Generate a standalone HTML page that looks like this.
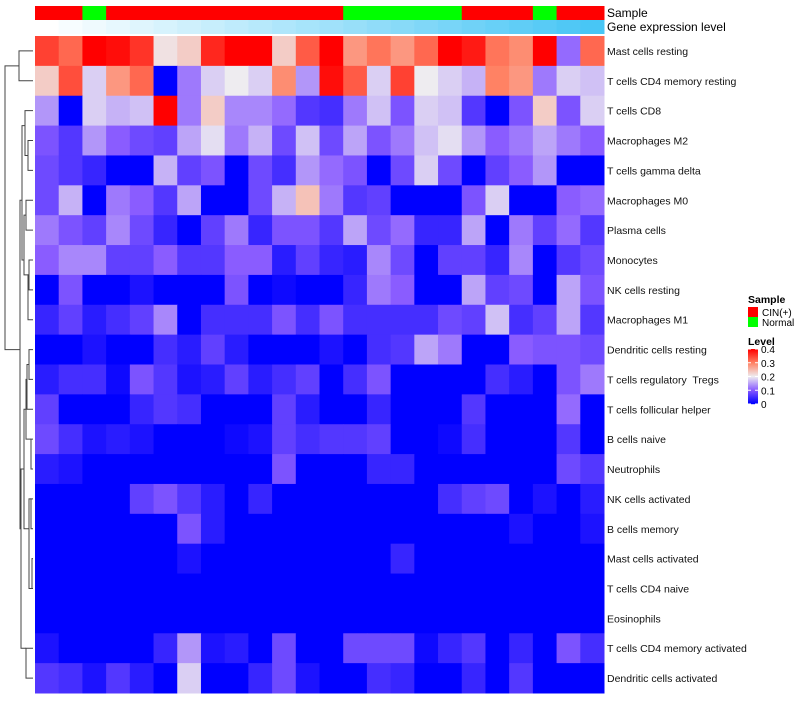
<!DOCTYPE html>
<html><head><meta charset="utf-8"><style>
body{margin:0;background:#fff;font-family:"Liberation Sans",sans-serif;}
svg text{font-family:"Liberation Sans",sans-serif;white-space:pre;}
</style></head><body>
<svg id="c" width="800" height="700"></svg>
<script>
const rowNames=["Mast cells resting","T cells CD4 memory resting","T cells CD8","Macrophages M2","T cells gamma delta","Macrophages M0","Plasma cells","Monocytes","NK cells resting","Macrophages M1","Dendritic cells resting","T cells regulatory  Tregs","T cells follicular helper","B cells naive","Neutrophils","NK cells activated","B cells memory","Mast cells activated","T cells CD4 naive","Eosinophils","T cells CD4 memory activated","Dendritic cells activated"];
const sampleGroups=["CIN","CIN","Normal","CIN","CIN","CIN","CIN","CIN","CIN","CIN","CIN","CIN","CIN","Normal","Normal","Normal","Normal","Normal","CIN","CIN","CIN","Normal","CIN","CIN"];
const legendTicks=[0,0.1,0.2,0.3,0.4];
const r0=[0.35,0.32,0.4,0.39,0.36,0.21,0.23,0.37,0.4,0.4,0.23,0.33,0.4,0.28,0.31,0.28,0.32,0.4,0.38,0.31,0.29,0.4,0.11,0.32];
const r1=[0.23,0.34,0.18,0.28,0.32,0,0.12,0.18,0.2,0.18,0.29,0.14,0.39,0.33,0.18,0.35,0.2,0.18,0.16,0.3,0.28,0.12,0.18,0.17];
const r2=[0.14,0,0.18,0.16,0.17,0.4,0.12,0.23,0.13,0.13,0.11,0.06,0.05,0.12,0.17,0.09,0.18,0.17,0.06,0,0.09,0.23,0.09,0.18];
const r3=[0.09,0.06,0.14,0.1,0.08,0.07,0.15,0.19,0.12,0.16,0.08,0.17,0.08,0.15,0.09,0.12,0.17,0.19,0.14,0.1,0.12,0.15,0.12,0.1];
const r4=[0.08,0.06,0.04,0,0,0.16,0.07,0.09,0,0.08,0.05,0.14,0.11,0.09,0,0.08,0.18,0.08,0,0.07,0.1,0.14,0,0];
const r5=[0.08,0.16,0,0.12,0.1,0.06,0.15,0,0,0.08,0.16,0.24,0.12,0.06,0.07,0,0,0,0.09,0.18,0,0,0.1,0.11];
const r6=[0.12,0.09,0.07,0.13,0.08,0.04,0,0.07,0.12,0.04,0.09,0.09,0.06,0.15,0.08,0.11,0.04,0.04,0.15,0,0.12,0.07,0.11,0.06];
const r7=[0.1,0.13,0.13,0.07,0.07,0.1,0.06,0.06,0.1,0.1,0.03,0.07,0.04,0.03,0.13,0.08,0,0.07,0.07,0.04,0.13,0,0.06,0.08];
const r8=[0,0.09,0,0,0.02,0,0,0,0.09,0,0.01,0,0,0.04,0.12,0.1,0,0,0.15,0.07,0.08,0,0.15,0.09];
const r9=[0.04,0.07,0.03,0.05,0.07,0.13,0,0.05,0.05,0.05,0.09,0.05,0.09,0.05,0.05,0.05,0.05,0.08,0.07,0.17,0.05,0.07,0.15,0.06];
const r10=[0,0,0.02,0,0,0.05,0.03,0.07,0.03,0,0,0,0.02,0,0.05,0.06,0.15,0.12,0,0,0.1,0.09,0.09,0.08];
const r11=[0.03,0.05,0.05,0.01,0.09,0.06,0.02,0.03,0.07,0.03,0.05,0.07,0,0.05,0.09,0,0,0,0,0.05,0.03,0,0.09,0.12];
const r12=[0.07,0,0,0,0.04,0.06,0.05,0,0,0,0.07,0.03,0,0,0.04,0,0,0,0.06,0,0,0,0.11,0];
const r13=[0.08,0.05,0.02,0.03,0.02,0,0,0,0.01,0.02,0.07,0.05,0.06,0.06,0.07,0,0,0.01,0.05,0,0,0,0.06,0];
const r14=[0.03,0.02,0,0,0,0,0,0,0,0,0.09,0,0,0,0.04,0.04,0,0,0,0,0,0,0.08,0.06];
const r15=[0,0,0,0,0.07,0.09,0.06,0.03,0,0.04,0,0,0,0,0,0,0,0.05,0.07,0.08,0,0.02,0,0.03];
const r16=[0,0,0,0,0,0,0.09,0.03,0,0,0,0,0,0,0,0,0,0,0,0,0.02,0,0,0.02];
const r17=[0,0,0,0,0,0,0.02,0,0,0,0,0,0,0,0,0.04,0,0,0,0,0,0,0,0];
const r18=[0,0,0,0,0,0,0,0,0,0,0,0,0,0,0,0,0,0,0,0,0,0,0,0];
const r19=[0,0,0,0,0,0,0,0,0,0,0,0,0,0,0,0,0,0,0,0,0,0,0,0];
const r20=[0.02,0,0,0,0,0.04,0.14,0.02,0.03,0,0.08,0,0,0.08,0.08,0.08,0.01,0.04,0.06,0,0.04,0,0.09,0.05];
const r21=[0.06,0.05,0.02,0.06,0.03,0,0.18,0,0,0.04,0.08,0.02,0,0,0.05,0.04,0,0,0.04,0,0.06,0,0,0];
const values=[r0,r1,r2,r3,r4,r5,r6,r7,r8,r9,r10,r11,r12,r13,r14,r15,r16,r17,r18,r19,r20,r21];

const NS="http://www.w3.org/2000/svg";
const svg=document.getElementById('c');
const X0=35,X1=604,Y0=36,Y1=693,VMAX=0.4;
const nC=sampleGroups.length,nR=rowNames.length;
const cw=(X1-X0)/nC,rh=(Y1-Y0)/nR;
const xS=i=>X0+i*cw, yS=j=>Y0+j*rh;
function mk(t,a,p){const e=document.createElementNS(NS,t);for(const k in a)e.setAttribute(k,a[k]);(p||svg).appendChild(e);return e;}
function lerp(a,b,t){return a.map((v,i)=>Math.round(v+(b[i]-v)*t));}
function col(v){let t=Math.max(0,Math.min(1,v/VMAX));
 const st=[[0,[0,0,255]],[0.25,[138,92,255]],[0.5,[238,236,240]],[0.75,[255,130,100]],[1,[255,0,0]]];
 for(let i=0;i<st.length-1;i++){if(t<=st[i+1][0]){const f=(t-st[i][0])/(st[i+1][0]-st[i][0]);const c=lerp(st[i][1],st[i+1][1],f);return `rgb(${c})`;}}
 return 'rgb(255,0,0)';}
for(let i=0;i<nC;i++){
 const r=mk('rect',{x:xS(i),y:6,width:cw+0.5,height:14,fill:sampleGroups[i]==="CIN"?"#ff0000":"#00ff00"});
 
 
 const f=i/(nC-1);const c=lerp([255,255,255],[72,198,245],f);
 const g=mk('rect',{x:xS(i),y:20,width:cw+0.5,height:14,fill:`rgb(${c})`});
 
 
}
let t=mk('text',{x:607,y:17,'font-size':12});t.textContent="Sample";

t=mk('text',{x:607,y:31,'font-size':12});t.textContent="Gene expression level";

values.forEach((row,j)=>{row.forEach((v,i)=>{
 const r=mk('rect',{x:xS(i),y:yS(j),width:cw+0.5,height:rh+0.5,fill:col(v)});
 
 
});
 const l=mk('text',{x:607,y:yS(j)+rh/2+4,'font-size':10.5,fill:'#111'});l.textContent=rowNames[j];
 
 
});
const yc=j=>yS(j)+rh/2;
const dg=mk('g',{stroke:'#444','stroke-width':1,fill:'none'});

function br(xa,ya,xb,yb,xm){mk('path',{d:`M${xa},${ya}H${xm}V${yb}H${xb}`},dg);}
br(33,yc(0),33,yc(1),19);
br(33,yc(3),33,yc(4),28);
br(33,yc(2),28,(yc(3)+yc(4))/2,25);
br(33,yc(5),33,yc(6),26);
br(33,yc(7),33,yc(8),29);
br(26,(yc(5)+yc(6))/2,29,(yc(7)+yc(8))/2,24);
br(33,yc(9),29,(yc(7)+yc(8))/2,28);
br(25,(yc(2)+yc(3))/2,24,yc(7),22);
br(33,yc(10),33,yc(11),29);
br(29,(yc(10)+yc(11))/2,33,yc(12),27);
br(33,yc(13),33,yc(14),31);
br(27,yc(11),31,yc(13),26);
br(33,yc(15),33,yc(16),31);
br(33,yc(17),33,yc(18),32);
br(31,yc(15),32,yc(18),29);
br(26,yc(12),29,yc(16),24);
br(33,yc(20),33,yc(21),26);
br(24,yc(14),26,yc(20),21);
br(22,yc(5),21,yc(16),20);
br(19,(yc(0)+yc(1))/2,20,yc(10),5);
t=mk('text',{x:748,y:303,'font-size':10.5,'font-weight':'bold'});t.textContent="Sample";

[["CIN(+)","#ff0000"],["Normal","#00ff00"]].forEach((d,k)=>{
 const r=mk('rect',{x:748,y:307+k*10,width:10,height:10,fill:d[1]});
 
 const tt=mk('text',{x:762,y:316+k*10,'font-size':10});tt.textContent=d[0];
 
});
t=mk('text',{x:748,y:345,'font-size':10.5,'font-weight':'bold'});t.textContent="Level";

const LB0=349,LB1=404;
for(let k=0;k<55;k++){const v=VMAX*(1-k/54);mk('rect',{x:748,y:LB0+k,width:10,height:1.2,fill:col(v)});}
legendTicks.forEach(v=>{const y=LB1-(v/VMAX)*(LB1-LB0);
 mk('line',{x1:748,x2:751,y1:y,y2:y,stroke:'#fff'});mk('line',{x1:755,x2:758,y1:y,y2:y,stroke:'#fff'});
 const tt=mk('text',{x:761,y:y+4,'font-size':10});tt.textContent=v===0?"0":String(v);
 
});
</script>
</body></html>
